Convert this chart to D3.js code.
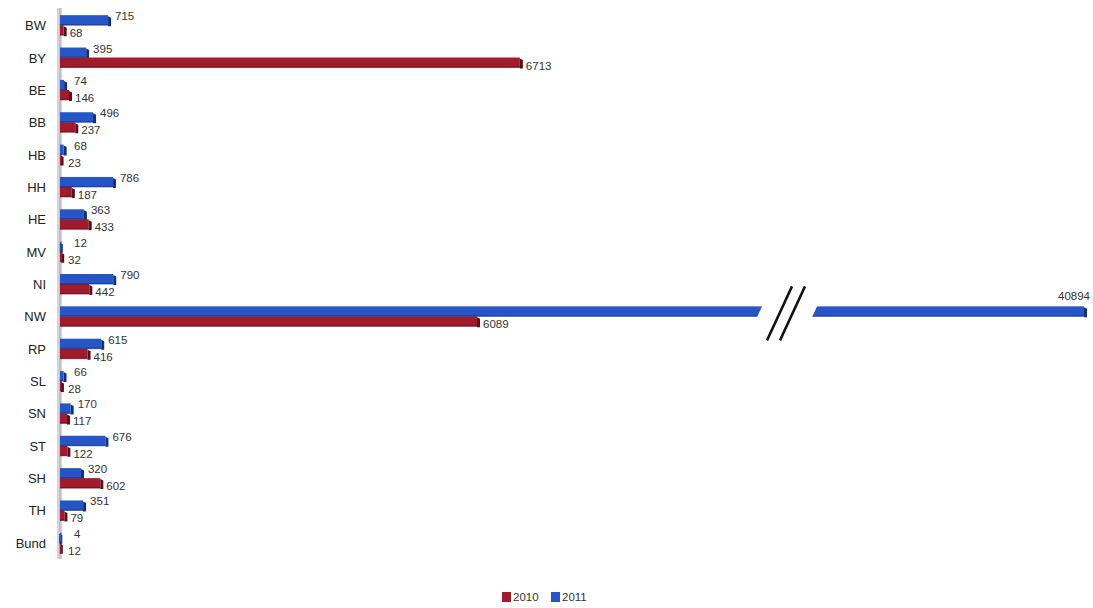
<!DOCTYPE html>
<html><head><meta charset="utf-8">
<script src="https://cdn.jsdelivr.net/npm/d3@7"></script>
<style>body{margin:0;background:#fff;}svg{display:block;font-family:Arial,"Liberation Sans",sans-serif;}</style>
</head><body>
<svg id="c" width="1093" height="608"></svg>
<script>
const categories = ["BW","BY","BE","BB","HB","HH","HE","MV","NI","NW","RP","SL","SN","ST","SH","TH","Bund"];
const values2010 = [68,6713,146,237,23,187,433,32,442,6089,416,28,117,122,602,79,12];
const values2011 = [715,395,74,496,68,786,363,12,790,40894,615,66,170,676,320,351,4];
const seriesNames = ["2010","2011"];
const breakDomain = [10240, 36900];

const colors = {"2010":"#a01b2c","2011":"#2656c6"};
const dark = {"2010":"#5e0d18","2011":"#12307a"};
const maxV = d3.max(values2011);

const svg = d3.select("#c");
const x = d3.scaleLinear().domain([0, breakDomain[0], breakDomain[1], maxV]).range([60, 763, 815, 1085]);
const y = d3.scaleBand().domain(categories).range([9, 559]);

// axis line (3D-ish)
svg.append("rect").attr("x",57).attr("y",8).attr("width",5).attr("height",551).attr("fill","#d6d2de");
svg.append("line").attr("x1",60).attr("x2",60).attr("y1",8).attr("y2",559).attr("stroke","#bdb8c8").attr("stroke-width",1.5);

// category labels
svg.append("g").selectAll("text").data(categories).join("text")
  .attr("x",46).attr("y",d=>y(d)+y.bandwidth()/2+5)
  .attr("text-anchor","end").attr("font-size",13).attr("fill","#222").text(d=>d);

const rows = [];
categories.forEach((c,i)=>{
  rows.push({cat:c, s:"2011", v:values2011[i]});
  rows.push({cat:c, s:"2010", v:values2010[i]});
});

function barY(d){ const c=y(d.cat)+y.bandwidth()/2; return d.s==="2011" ? c-10 : c; }
const bh = 11;

const g = svg.append("g");
// shade edge
g.selectAll("path.edge").data(rows).join("path").attr("class","edge")
  .attr("d",d=>{const x1=x(d.v), y0=barY(d); return `M${x1-1},${y0+1}L${x1+2},${y0+2.5}L${x1+2},${y0+bh}L${x1-1},${y0+bh}Z`;})
  .attr("fill",d=>dark[d.s]);
g.selectAll("rect.bar").data(rows).join("rect").attr("class","bar")
  .attr("x",x(0)).attr("y",d=>barY(d)).attr("width",d=>Math.max(1.5,x(d.v)-x(0)-1)).attr("height",bh-1)
  .attr("fill",d=>colors[d.s]);
g.selectAll("rect.bot").data(rows).join("rect").attr("class","bot")
  .attr("x",x(0)).attr("y",d=>barY(d)+bh-2).attr("width",d=>Math.max(1.5,x(d.v)-x(0)-1)).attr("height",1.5)
  .attr("fill",d=>dark[d.s]).attr("opacity",0.6);

// break
const nwY = y("NW")+y.bandwidth()/2;
svg.append("path").attr("d",`M${x(breakDomain[0])},${nwY-12}L${x(breakDomain[1])+3},${nwY-12}L${x(breakDomain[1])-3},${nwY+1}L${x(breakDomain[0])-6},${nwY+1}Z`).attr("fill","#fff");
svg.append("g").selectAll("line").data([0,13]).join("line")
  .attr("x1",d=>x(breakDomain[0])+29+d).attr("y1",nwY-30)
  .attr("x2",d=>x(breakDomain[0])+4+d).attr("y2",nwY+24)
  .attr("stroke","#111").attr("stroke-width",2.5);

// value labels
svg.append("g").selectAll("text").data(rows).join("text")
  .attr("x",d=>{
    if(d.v===maxV) return x(d.v)+5;
    const e = x(d.v);
    return d.s==="2011" ? Math.max(e+6, 74) : Math.max(e+5, 68);
  })
  .attr("y",d=>{const c=y(d.cat)+y.bandwidth()/2; if(d.v===maxV) return c-16; return d.s==="2011" ? c-5 : c+12;})
  .attr("text-anchor",d=>d.v===maxV?"end":"start")
  .attr("font-size",11.5).attr("fill","#333").text(d=>d.v);

// legend
const leg = svg.append("g").attr("font-size",11.5).attr("fill","#333");
const lx = [502,551];
seriesNames.forEach((s,i)=>{
  leg.append("rect").attr("x",lx[i]).attr("y",592).attr("width",9).attr("height",10).attr("fill",colors[s]);
  leg.append("text").attr("x",lx[i]+11).attr("y",601).text(s);
});
</script>
</body></html>
